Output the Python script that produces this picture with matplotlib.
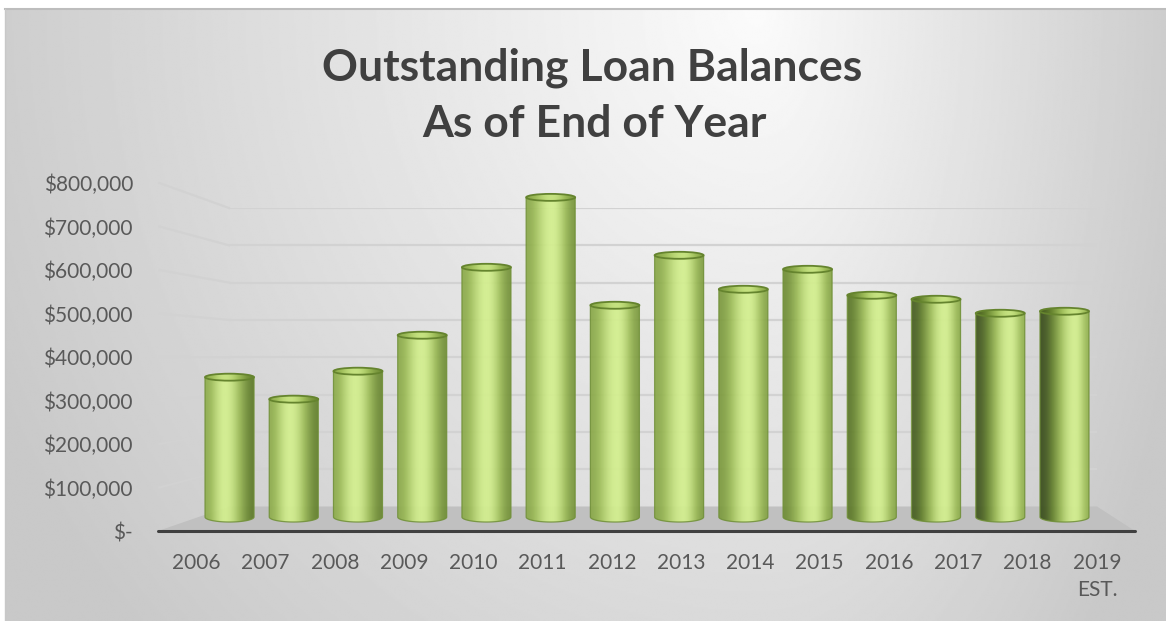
import numpy as np
import matplotlib.pyplot as plt
from matplotlib.patches import Ellipse, Polygon, PathPatch
from matplotlib.path import Path
from matplotlib.lines import Line2D
from matplotlib.colors import LinearSegmentedColormap

plt.rcParams['font.family'] = ['Lato', 'DejaVu Sans']

# outstanding balance at year end
years = ["2006", "2007", "2008", "2009", "2010", "2011", "2012",
         "2013", "2014", "2015", "2016", "2017", "2018", "2019\nEST."]
balances = [350000, 295000, 365000, 455000, 625000, 800000, 530000,
            655000, 570000, 620000, 555000, 545000, 510000, 515000]
value_ticks = [0, 100000, 200000, 300000, 400000, 500000, 600000, 700000, 800000]
tick_labels = ["$-", "$100,000", "$200,000", "$300,000", "$400,000",
               "$500,000", "$600,000", "$700,000", "$800,000"]

W, H = 1166, 621
fig = plt.figure(figsize=(W / 100, H / 100), dpi=100)


def px_box(x0, y0, x1, y1):
    # pixel rectangle (y measured from the top) -> figure fraction box
    return [x0 / W, 1 - y1 / H, (x1 - x0) / W, (y1 - y0) / H]


# chart area background: soft radial grey gradient
ax_bg = fig.add_axes(px_box(5, 9, 1166, 621), zorder=-3)
gx, gy = np.meshgrid(np.linspace(0, 1, 600), np.linspace(0, 1, 320))
rx = np.where(gx < 0.65, 0.72, 0.38)
d = np.sqrt(((gx - 0.65) / rx) ** 2 + (gy / 1.5) ** 2)
grey = (251 - 50 * np.clip(d, 0, 1)) / 255
ax_bg.imshow(grey, cmap='gray', vmin=0, vmax=1, extent=[0, 1, 1, 0],
             aspect='auto', interpolation='bilinear')
ax_bg.set_xlim(0, 1)
ax_bg.set_ylim(1, 0)
ax_bg.axis('off')
fig.add_artist(Line2D([5 / W, 1], [1 - 9 / H, 1 - 9 / H], color='#bdbdbd', lw=1.5))
fig.add_artist(Line2D([5 / W, 5 / W], [0, 1 - 9 / H], color='#c8c8c8', lw=1.0))

# back wall (gridlines)
ax_back = fig.add_axes(px_box(229, 208, 1097, 506.5), zorder=-2)
ax_back.set_xlim(0, 1)
ax_back.set_ylim(0, 800000)
ax_back.axis('off')
for v in value_ticks[1:]:
    ax_back.axhline(v, color='#d2d2d2', lw=1.6, zorder=1)

# front plane: axis labels and the floor edge
ax_front = fig.add_axes(px_box(158, 183, 1135, 531), zorder=0)
ax_front.set_xlim(-0.55, 13.55)
ax_front.set_ylim(0, 800000)
ax_front.patch.set_visible(False)
for s in ax_front.spines.values():
    s.set_visible(False)
ax_front.set_yticks(value_ticks, tick_labels)
ax_front.set_xticks(range(len(years)), years)
ax_front.tick_params(axis='y', length=0, pad=18, labelsize=15, labelcolor='#595959')
ax_front.tick_params(axis='x', length=0, pad=16, labelsize=15, labelcolor='#595959')
for lab in ax_front.get_xticklabels():
    lab.set_linespacing(1.45)
ax_front.axhline(0, color='#404040', lw=2.2, solid_capstyle='round', clip_on=False, zorder=3)

# side wall lines and floor, joining the front plane to the back wall
to_fig = fig.transFigure.inverted()


def fig_pt(ax, x, y):
    return to_fig.transform(ax.transData.transform((x, y)))


for v in value_ticks[1:]:
    p0 = fig_pt(ax_front, -0.53, v)
    p1 = fig_pt(ax_back, 0, v)
    fig.add_artist(Line2D([p0[0], p1[0]], [p0[1], p1[1]], color='#d2d2d2', lw=1.6, zorder=-1.5))

floor = [fig_pt(ax_front, -0.55, 0), fig_pt(ax_front, 13.55, 0),
         fig_pt(ax_back, 1, 0), fig_pt(ax_back, 0, 0)]
fig.add_artist(Polygon(floor, closed=True, facecolor='#c0c0c0', edgecolor='none', zorder=-1))

# cylinders
ax_bar = fig.add_axes(px_box(194.2, 177.4, 1099.8, 537), zorder=1)
ax_bar.set_xlim(-0.55, 13.55)
ax_bar.set_ylim(-50000, 850000)
ax_bar.axis('off')

green = LinearSegmentedColormap.from_list(
    'cyl', [(0, '#34461a'), (0.35, '#66832f'), (0.7, '#9dbc58'), (1, '#d3ef8e')])
bar_w = 0.763
cap_h = 17500      # height of the top ellipse in value units
base_h = 25000     # height of the bottom ellipse
u = np.linspace(0, 1, 120)

for i, v in enumerate(balances):
    left = np.interp(i, [0, 7, 9, 11, 13], [0.62, 0.58, 0.42, 0.15, 0.05])
    right = np.interp(i, [0, 3, 6, 13], [0.3, 0.42, 0.5, 0.65])
    peak = np.interp(i, [0, 13], [0.4, 0.7])
    xl = (peak - u) / peak
    xr = (u - peak) / (1 - peak)
    b = np.where(u < peak,
                 left + (1 - left) * (1 - np.clip(xl, 0, 1) ** 2) ** 2.2,
                 right + (1 - right) * (1 - np.clip(xr, 0, 1) ** 2) ** 2.2)
    shade = green(b)[None, :, :]

    x0, x1 = i - bar_w / 2, i + bar_w / 2
    t = np.linspace(0, -np.pi, 40)
    verts = [(x0, v), (x1, v)] + [(i + bar_w / 2 * np.cos(a), base_h / 2 * np.sin(a)) for a in t] + [(x0, v)]
    body = PathPatch(Path(verts), transform=ax_bar.transData)
    im = ax_bar.imshow(shade, extent=[x0, x1, -base_h, v], aspect='auto',
                       interpolation='bilinear', alpha=0.93, zorder=2)
    im.set_clip_path(body)
    ax_bar.add_patch(PathPatch(Path(verts), facecolor='none', edgecolor='#6f8f36',
                               lw=0.9, alpha=0.85, zorder=3))

    cap = Ellipse((i, v), bar_w, cap_h, transform=ax_bar.transData)
    cim = ax_bar.imshow(green(b * 0.8 + 0.12)[None, :, :], extent=[x0, x1, v - cap_h, v + cap_h],
                        aspect='auto', interpolation='bilinear', zorder=4)
    cim.set_clip_path(cap)
    ax_bar.add_patch(Ellipse((i, v), bar_w, cap_h, facecolor='none',
                             edgecolor='#65842e', lw=1.3, zorder=5))

ax_bar.set_xlim(-0.55, 13.55)
ax_bar.set_ylim(-50000, 850000)

# title
fig.text(592 / W, 1 - 80 / H, "Outstanding Loan Balances", ha='center', va='baseline',
         fontsize=32, fontweight='bold', color='#404040')
fig.text(594 / W, 1 - 137 / H, "As of End of Year", ha='center', va='baseline',
         fontsize=32, fontweight='bold', color='#404040')

fig.savefig('out.png', dpi=100)
